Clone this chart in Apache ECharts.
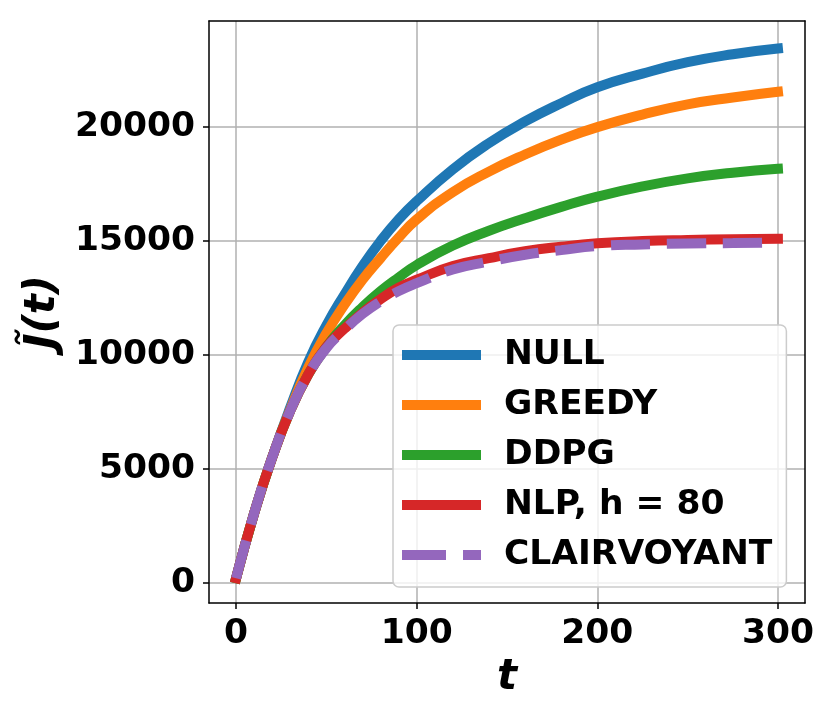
<!DOCTYPE html>
<html>
<head>
<meta charset="utf-8">
<script src="https://cdn.jsdelivr.net/npm/echarts@6.0.0/dist/echarts.min.js"></script>
<style>
  html, body { margin: 0; padding: 0; background: #fff; }
  #chart { width: 830px; height: 716px; }
</style>
</head>
<body>
<div id="chart"></div>
<script>
// time steps
const tValues = [0, 10, 20, 30, 40, 50, 60, 70, 80, 90, 100, 120, 140, 160, 180, 200, 225, 250, 275, 300];

// J~(t) for each policy
const nullValues   = [200, 3050, 5500, 7700, 9700, 11300, 12650, 13900, 15000, 15950, 16750, 18150, 19300, 20250, 21050, 21750, 22350, 22850, 23200, 23450];
const greedyValues = [200, 3050, 5500, 7600, 9450, 10950, 12200, 13300, 14250, 15150, 15950, 17150, 18050, 18800, 19450, 20000, 20550, 21000, 21300, 21550];
const ddpgValues   = [200, 3050, 5500, 7550, 9150, 10350, 11300, 12100, 12800, 13400, 13950, 14800, 15450, 16000, 16500, 16950, 17400, 17750, 18000, 18170];
const nlpValues    = [200, 3050, 5500, 7550, 9150, 10350, 11150, 11850, 12450, 12950, 13300, 13900, 14250, 14550, 14750, 14900, 15000, 15050, 15080, 15100];
const clairValues  = [200, 3050, 5500, 7550, 9150, 10300, 11100, 11800, 12350, 12800, 13150, 13750, 14100, 14400, 14600, 14780, 14850, 14890, 14910, 14930];

const xTicks = [0, 100, 200, 300];
const yTicks = [0, 5000, 10000, 15000, 20000];

const seriesNames = ['NULL', 'GREEDY', 'DDPG', 'NLP, h = 80', 'CLAIRVOYANT'];
const colorList = ['#1f77b4', '#ff7f0e', '#2ca02c', '#d62728', '#9467bd'];

const font = 'DejaVu Sans';
const chart = echarts.init(document.getElementById('chart'), null, { width: 830, height: 716 });

function toPairs(ys) {
  return tValues.map(function (t, i) { return [t, ys[i]]; });
}

function lineSeries(name, ys, color, dashed) {
  return {
    name: name,
    type: 'line',
    data: toPairs(ys),
    symbol: 'none',
    showSymbol: false,
    smooth: 0.5,
    color: color,
    lineStyle: {
      color: color,
      width: 10,
      type: dashed ? [39, 17] : 'solid',
      cap: dashed ? 'butt' : 'square'
    }
  };
}

const frameLine = { color: '#000', width: 1.5 };

option = {
  animation: false,
  grid: { left: 209, right: 25, top: 21, bottom: 113, show: false },
  xAxis: [
    {
      type: 'value',
      min: -15,
      max: 315,
      minInterval: 100,
      maxInterval: 100,
      name: 't',
      nameLocation: 'middle',
      nameGap: 52,
      nameTextStyle: { fontFamily: font, fontSize: 42, fontWeight: 'bold', fontStyle: 'italic', color: '#000' },
      axisLine: { show: true, onZero: false, lineStyle: frameLine },
      axisTick: { show: true, length: 6, customValues: xTicks, lineStyle: frameLine },
      axisLabel: {
        customValues: xTicks,
        margin: 14,
        fontFamily: font,
        fontSize: 34.5,
        fontWeight: 'bold',
        color: '#000',
        formatter: function (v) { return v % 100 === 0 ? String(v) : ''; }
      },
      splitLine: { show: true, lineStyle: { color: '#b0b0b0', width: 1.5 } }
    },
    {
      type: 'value',
      position: 'top',
      min: -15,
      max: 315,
      axisLine: { show: true, onZero: false, lineStyle: frameLine },
      axisTick: { show: false },
      axisLabel: { show: false },
      splitLine: { show: false }
    }
  ],
  yAxis: [
    {
      type: 'value',
      min: -890,
      max: 24660,
      minInterval: 5000,
      maxInterval: 5000,
      name: 'J\u0303(t)',
      nameLocation: 'middle',
      nameRotate: 90,
      nameGap: 144,
      nameTextStyle: { fontFamily: font, fontSize: 42, fontWeight: 'bold', fontStyle: 'italic', color: '#000' },
      axisLine: { show: true, onZero: false, lineStyle: frameLine },
      axisTick: { show: true, length: 6, customValues: yTicks, lineStyle: frameLine },
      axisLabel: {
        customValues: yTicks,
        margin: 14,
        fontFamily: font,
        fontSize: 34.5,
        fontWeight: 'bold',
        color: '#000',
        formatter: function (v) { return v % 5000 === 0 ? String(v) : ''; }
      },
      splitLine: { show: true, lineStyle: { color: '#b0b0b0', width: 1.5 } }
    },
    {
      type: 'value',
      position: 'right',
      min: -890,
      max: 24660,
      axisLine: { show: true, onZero: false, lineStyle: frameLine },
      axisTick: { show: false },
      axisLabel: { show: false },
      splitLine: { show: false }
    }
  ],
  legend: {
    orient: 'vertical',
    left: 393,
    top: 325,
    padding: [10, 14, 12, 9],
    itemWidth: 79,
    itemHeight: 10,
    itemGap: 10,
    backgroundColor: 'rgba(255,255,255,0.8)',
    borderColor: '#cccccc',
    borderWidth: 1.5,
    borderRadius: 6,
    itemStyle: { borderWidth: 0 },
    textStyle: {
      fontFamily: font,
      fontSize: 34.5,
      fontWeight: 'bold',
      color: '#000',
      lineHeight: 40,
      padding: [0, 0, 0, 18]
    },
    data: [
      { name: seriesNames[0], icon: 'rect' },
      { name: seriesNames[1], icon: 'rect' },
      { name: seriesNames[2], icon: 'rect' },
      { name: seriesNames[3], icon: 'rect' },
      { name: seriesNames[4], icon: 'path://M0,0H44V10H0Z M61,0H79V10H61Z' }
    ]
  },
  series: [
    lineSeries(seriesNames[0], nullValues, colorList[0], false),
    lineSeries(seriesNames[1], greedyValues, colorList[1], false),
    lineSeries(seriesNames[2], ddpgValues, colorList[2], false),
    lineSeries(seriesNames[3], nlpValues, colorList[3], false),
    lineSeries(seriesNames[4], clairValues, colorList[4], true)
  ]
};

chart.setOption(option);
</script>
</body>
</html>
